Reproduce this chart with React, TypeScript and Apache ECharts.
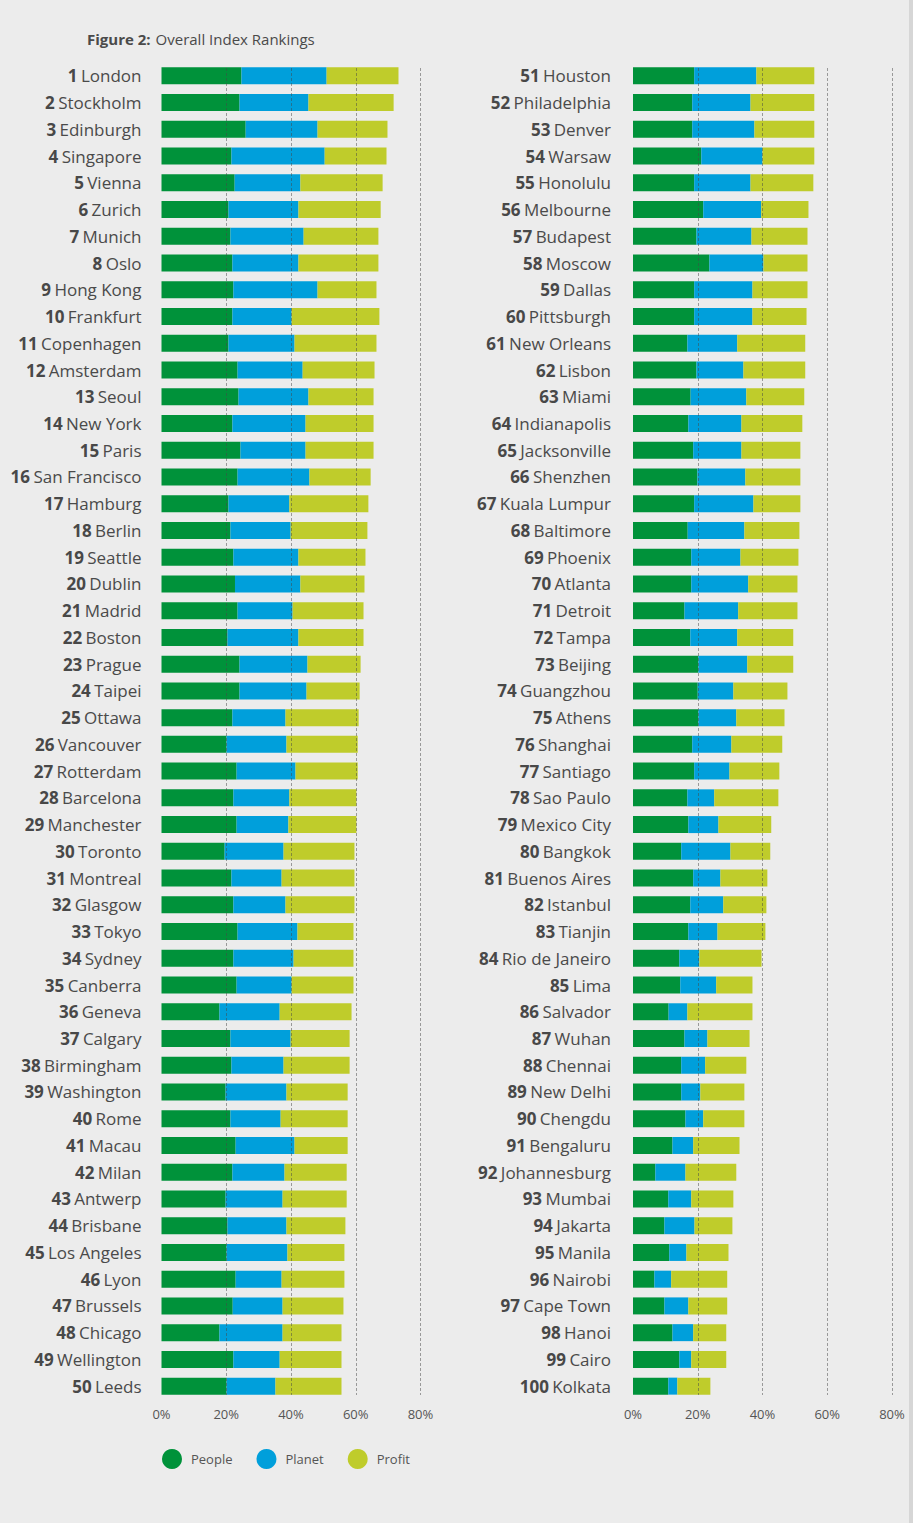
import React, { useEffect, useRef } from "react";
import * as echarts from "echarts";

const citiesA = ["London","Stockholm","Edinburgh","Singapore","Vienna","Zurich","Munich","Oslo","Hong Kong","Frankfurt","Copenhagen","Amsterdam","Seoul","New York","Paris","San Francisco","Hamburg","Berlin","Seattle","Dublin","Madrid","Boston","Prague","Taipei","Ottawa","Vancouver","Rotterdam","Barcelona","Manchester","Toronto","Montreal","Glasgow","Tokyo","Sydney","Canberra","Geneva","Calgary","Birmingham","Washington","Rome","Macau","Milan","Antwerp","Brisbane","Los Angeles","Lyon","Brussels","Chicago","Wellington","Leeds"];
const peopleA = [24.7,24.1,26.0,21.6,22.6,20.7,21.3,21.9,22.2,21.9,20.7,23.5,23.8,21.9,24.4,23.5,20.7,21.3,22.2,22.7,23.5,20.4,24.1,24.1,21.9,20.1,23.2,22.2,23.2,19.5,21.6,22.2,23.5,22.2,23.2,17.9,21.3,21.6,19.8,21.3,22.9,21.9,19.8,20.4,20.1,22.9,22.0,17.9,22.2,20.1];
const planetA = [26.3,21.3,22.2,28.8,20.3,21.6,22.6,20.4,26.0,18.3,20.4,20.1,21.6,22.6,20.1,22.2,18.8,18.6,20.1,20.2,17.0,21.9,21.0,20.7,16.4,18.5,18.2,17.3,16.0,18.2,15.5,16.1,18.5,18.6,17.0,18.6,18.6,16.1,18.8,15.5,18.2,16.1,17.6,18.2,18.8,14.2,15.4,19.5,14.3,15.1];
const profitA = [22.2,26.3,21.6,19.1,25.4,25.4,23.1,24.7,18.2,27.1,25.3,22.2,20.1,21.0,21.0,18.9,24.4,23.7,20.7,19.8,21.9,20.1,16.4,16.4,22.6,22.0,19.2,20.7,21.0,21.9,22.5,21.3,17.3,18.5,19.1,22.2,18.2,20.4,18.9,20.7,16.4,19.2,19.8,18.2,17.6,19.4,18.8,18.2,19.1,20.4];

const citiesB = ["Houston","Philadelphia","Denver","Warsaw","Honolulu","Melbourne","Budapest","Moscow","Dallas","Pittsburgh","New Orleans","Lisbon","Miami","Indianapolis","Jacksonville","Shenzhen","Kuala Lumpur","Baltimore","Phoenix","Atlanta","Detroit","Tampa","Beijing","Guangzhou","Athens","Shanghai","Santiago","Sao Paulo","Mexico City","Bangkok","Buenos Aires","Istanbul","Tianjin","Rio de Janeiro","Lima","Salvador","Wuhan","Chennai","New Delhi","Chengdu","Bengaluru","Johannesburg","Mumbai","Jakarta","Manila","Nairobi","Cape Town","Hanoi","Cairo","Kolkata"];
const peopleB = [18.9,18.3,18.3,21.1,18.9,21.7,19.6,23.6,18.9,18.9,16.8,19.6,17.8,17.1,18.6,19.9,18.9,16.9,18.0,18.0,15.9,17.7,20.2,20.0,20.2,18.3,18.9,16.8,17.1,14.9,18.6,17.7,17.1,14.3,14.6,11.0,15.9,14.9,14.9,16.2,12.2,6.9,10.9,9.7,11.2,6.6,9.7,12.2,14.3,10.9];
const planetB = [19.2,18.0,19.2,18.9,17.4,17.9,17.0,16.7,18.0,18.0,15.4,14.5,17.2,16.4,14.9,14.8,18.3,17.5,15.2,17.6,16.6,14.5,15.1,11.0,11.7,12.1,10.9,8.3,9.3,15.2,8.4,10.2,9.0,6.2,11.1,5.8,7.1,7.4,5.9,5.5,6.4,9.3,7.1,9.3,5.3,5.2,7.4,6.4,3.7,2.8];
const profitB = [17.9,19.7,18.5,16.0,19.4,14.6,17.3,13.6,17.0,16.7,21.0,19.1,17.9,18.8,18.2,17.0,14.5,17.0,17.9,15.2,18.3,17.3,14.2,16.7,14.9,15.7,15.4,19.8,16.3,12.3,14.5,13.3,14.8,19.2,11.2,20.1,13.0,12.7,13.6,12.7,14.3,15.7,13.0,11.7,13.0,17.3,12.0,10.2,10.8,10.2];

const seriesNames = ["People", "Planet", "Profit"];
const colors = ["#00923a", "#009fdb", "#bfcc2b"];

const FONT = "'Open Sans', 'Noto Sans', sans-serif";

export default function App() {
  const ref = useRef<HTMLDivElement>(null);
  useEffect(() => {
    const chart = echarts.init(ref.current!, undefined, { renderer: "svg" });

    const panels = [
      { left: 161.5, cities: citiesA, vals: [peopleA, planetA, profitA], offset: 1, margin: 20 },
      { left: 633, cities: citiesB, vals: [peopleB, planetB, profitB], offset: 51, margin: 22 },
    ];
    const width = 259;
    const grids: any[] = [];
    const xAxes: any[] = [];
    const yAxes: any[] = [];
    const series: any[] = [];

    panels.forEach((p, pi) => {
      const gi = grids.length;
      grids.push({ left: p.left, width, top: 62.5, height: 1337, containLabel: false });
      grids.push({ left: p.left, width, top: 68, height: 1327, containLabel: false });
      xAxes.push({
        gridIndex: gi, type: "value", min: 0, max: 80, interval: 20,
        axisLine: { show: false }, axisTick: { show: false }, splitLine: { show: false },
        axisLabel: { formatter: "{value}%", color: "#555", fontSize: 13, fontFamily: FONT, margin: 8 },
      });
      xAxes.push({
        gridIndex: gi + 1, type: "value", min: 0, max: 80, interval: 20, z: 10,
        axisLine: { show: false }, axisTick: { show: false }, axisLabel: { show: false },
        splitLine: { show: true, showMinLine: false, lineStyle: { color: "rgba(70,70,70,0.5)", type: [3, 2], width: 1 } },
      });
      yAxes.push({
        gridIndex: gi, type: "category", inverse: true, data: p.cities,
        axisLine: { show: false }, axisTick: { show: false },
        axisLabel: {
          margin: p.margin,
          formatter: (v: string, i: number) => `{n|${i + p.offset}} {c|${v}}`,
          rich: {
            n: { fontFamily: FONT, fontSize: 17, fontWeight: "bold", color: "#484848" },
            c: { fontFamily: FONT, fontSize: 17, color: "#4a4a4a" },
          },
        },
      });
      yAxes.push({ gridIndex: gi + 1, type: "value", show: false, min: 0, max: 1 });
      const xi = pi * 2;
      seriesNames.forEach((name, si) => {
        series.push({
          name, type: "bar", stack: "s" + pi, xAxisIndex: xi, yAxisIndex: xi,
          barWidth: 17, itemStyle: { color: colors[si] }, data: p.vals[si],
        });
      });
    });

    chart.setOption({
      animation: false,
      backgroundColor: "#ececec",
      title: {
        left: 82, top: 25,
        text: "{b|Figure 2:} {r|Overall Index Rankings}",
        textStyle: {
          fontWeight: "normal",
          rich: {
            b: { fontFamily: FONT, fontSize: 15, fontWeight: "bold", color: "#4a4a4a" },
            r: { fontFamily: FONT, fontSize: 15, fontWeight: "normal", color: "#4a4a4a" },
          },
        },
      },
      legend: {
        data: seriesNames, left: 162, top: 1449, padding: 0, icon: "circle",
        itemWidth: 20, itemHeight: 20, itemGap: 24,
        textStyle: { fontFamily: FONT, fontSize: 13, color: "#555", padding: [0, 0, 0, 4] },
      },
      grid: grids,
      xAxis: xAxes,
      yAxis: yAxes,
      series,
      graphic: [{ type: "rect", left: 909, top: 0, shape: { width: 4, height: 1523 }, style: { fill: "#d6d6d6" } }],
    });
    return () => chart.dispose();
  }, []);
  return <div ref={ref} style={{ position: "absolute", left: 0, top: 0, width: 913, height: 1523 }} />;
}
